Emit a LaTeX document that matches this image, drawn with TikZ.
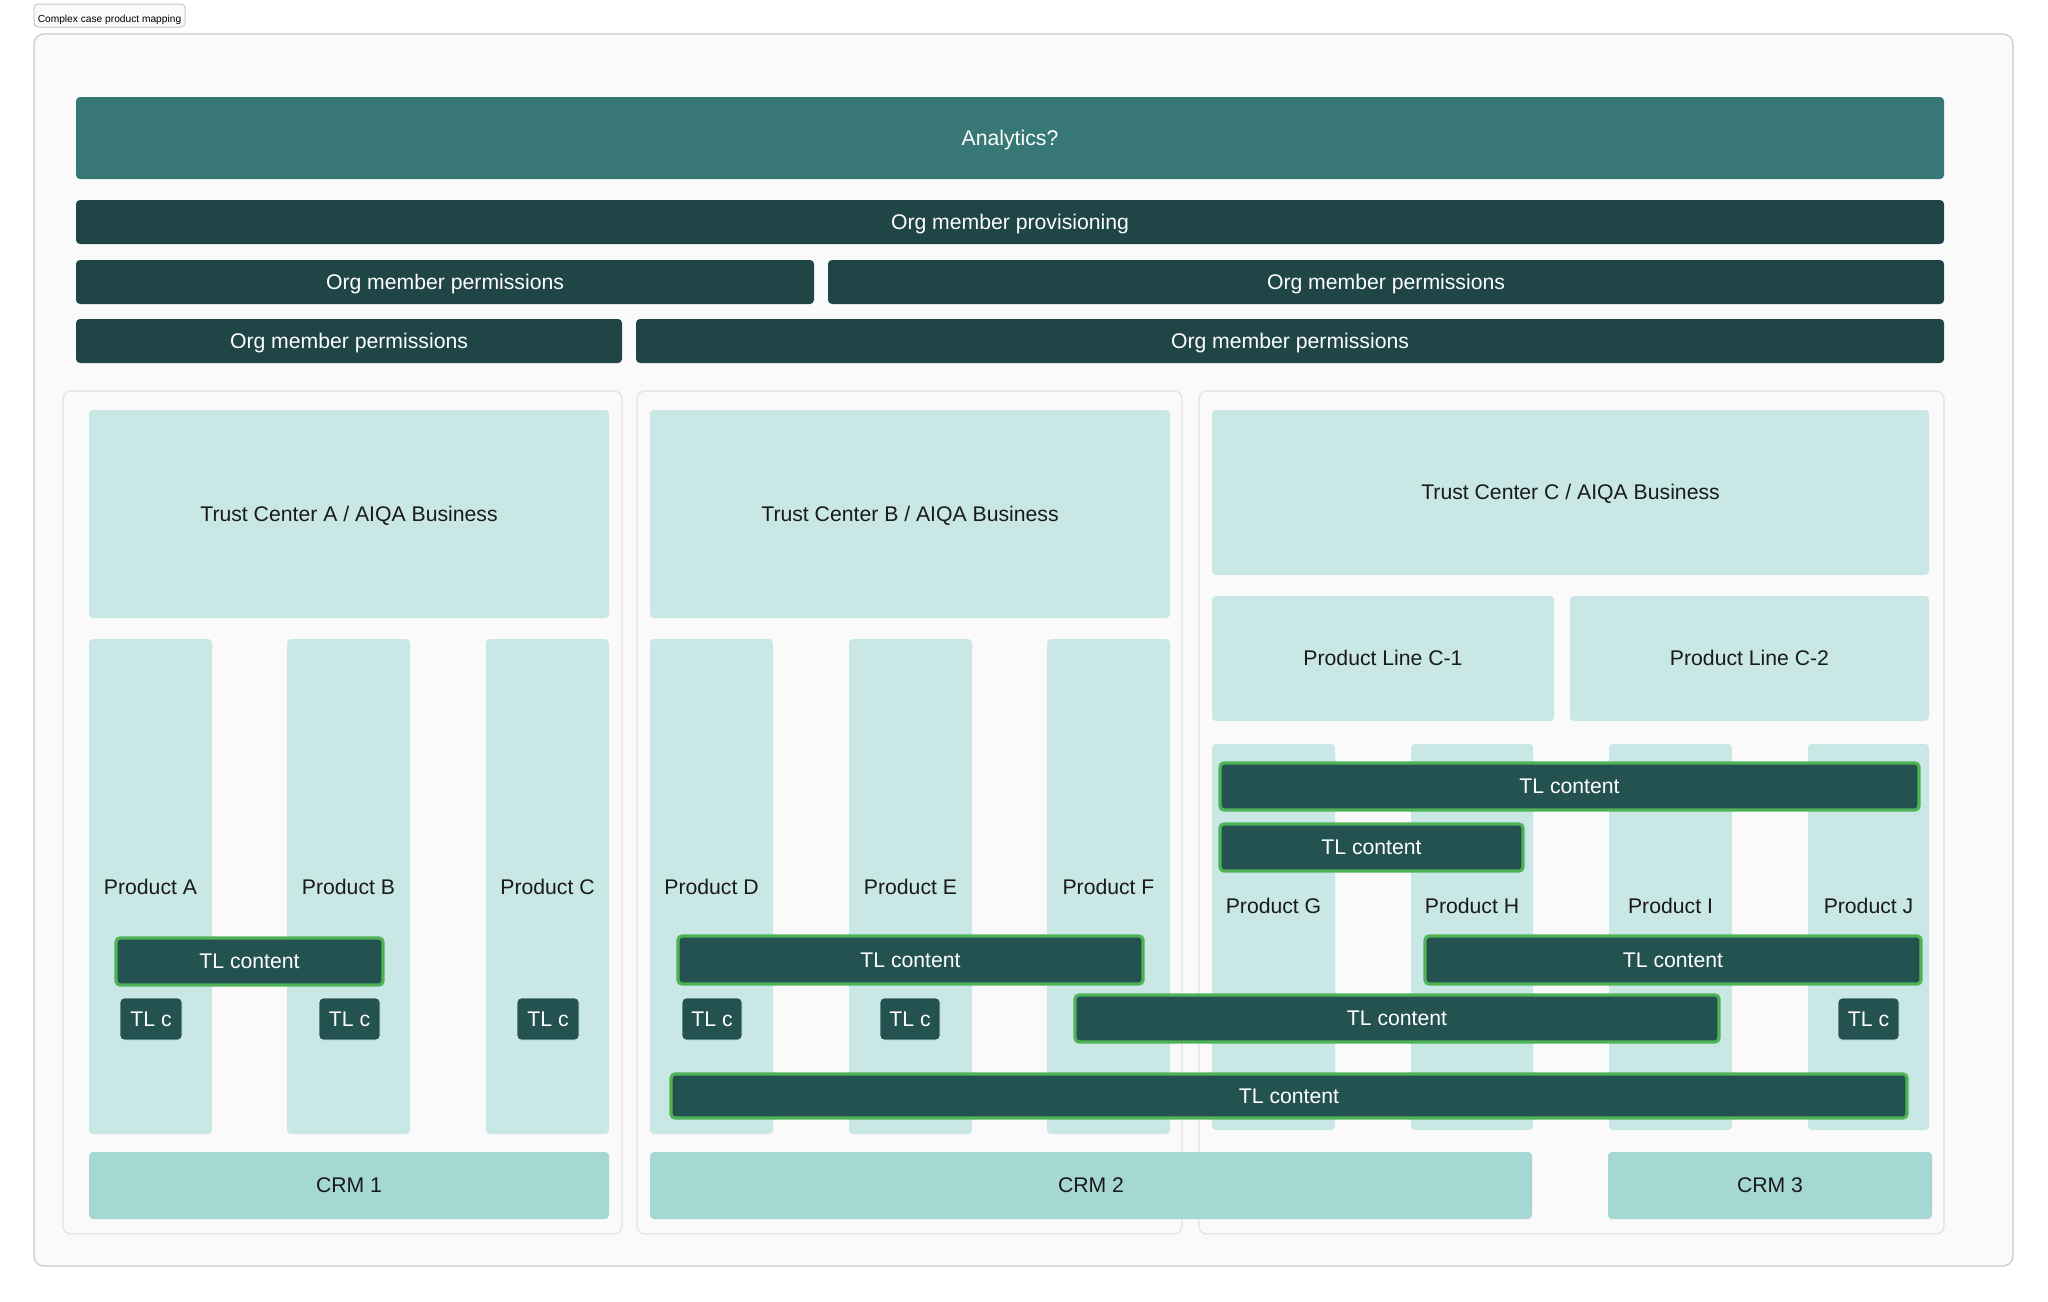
\documentclass[tikz,border=0pt]{standalone}
\usepackage{fontspec}
\setmainfont{Liberation Sans}
\definecolor{cAna}{HTML}{377876}
\definecolor{cDark}{HTML}{1F4547}
\definecolor{cLight}{HTML}{C8E7E5}
\definecolor{cCrm}{HTML}{A5D7D3}
\definecolor{cTL}{HTML}{245251}
\definecolor{cGreen}{HTML}{4FB257}
\definecolor{cTLedge}{HTML}{DDEFEC}
\definecolor{cBg}{HTML}{FAFAFA}
\definecolor{cGroup}{HTML}{E2E2E2}
\definecolor{cFrame}{HTML}{C9C9C9}
\definecolor{cText}{HTML}{1A1A1A}
\tikzset{
  base/.style={inner sep=0pt, outer sep=0pt, rounded corners=2pt, font=\fontsize{10.6}{12}\selectfont, text height=0.72em, text depth=0pt},
  anabox/.style={base, fill=cAna, text=white},
  darkbar/.style={base, fill=cDark, text=white},
  lightbox/.style={base, fill=cLight, text=cText},
  crmbox/.style={base, fill=cCrm, text=cText},
  tlcontent/.style={base, fill=cTL, draw=cGreen, line width=1.6pt, text=white},
  tlcbox/.style={base, fill=cTL, draw=cTLedge, line width=0.4pt, text=white},
  groupbox/.style={base, rounded corners=4pt, fill=cBg, draw=cGroup, line width=0.6pt},
  framebox/.style={base, rounded corners=5pt, fill=cBg, draw=cFrame, line width=0.6pt},
  titlebox/.style={base, rounded corners=2pt, fill=cBg, draw=cFrame, line width=0.5pt, text=black, font=\fontsize{5.1}{6}\selectfont},
  plabel/.style={inner sep=0pt, text=cText, font=\fontsize{10.6}{12}\selectfont, text height=0.72em, text depth=0pt}
}
\newcommand\bx[7]{%
  \pgfmathsetmacro\bxw{(#4-#2)*0.5}%
  \pgfmathsetmacro\bxh{(#5-#3)*0.5}%
  \node[#6, minimum width=\bxw pt, minimum height=\bxh pt] (#1) at ({(#2+#4)/2},{(#3+#5)/2}) {#7};}
\begin{document}
\begin{tikzpicture}[x=0.5pt, y=-0.5pt]
\fill[white] (0,0) rectangle (2048,1301);
\useasboundingbox (0,0) rectangle (2048,1301);
% outer frame and title
\bx{frame}{34}{34}{2013}{1266}{framebox}{}
\bx{title}{34}{4}{185}{27}{titlebox}{Complex case product mapping}
% top bars
\bx{analytics}{76}{97}{1944}{179}{anabox}{Analytics?}
\bx{prov}{76}{200}{1944}{244}{darkbar}{Org member provisioning}
\bx{permA}{76}{260}{814}{304}{darkbar}{Org member permissions}
\bx{permB}{828}{260}{1944}{304}{darkbar}{Org member permissions}
\bx{permC}{76}{319}{622}{363}{darkbar}{Org member permissions}
\bx{permD}{636}{319}{1944}{363}{darkbar}{Org member permissions}
% groups
\bx{grpA}{63}{391}{622}{1234}{groupbox}{}
\bx{grpB}{637}{391}{1182}{1234}{groupbox}{}
\bx{grpC}{1199}{391}{1944}{1234}{groupbox}{}
% trust centers
\bx{tcA}{89}{410}{609}{618}{lightbox}{Trust Center A / AIQA Business}
\bx{tcB}{650}{410}{1170}{618}{lightbox}{Trust Center B / AIQA Business}
\bx{tcC}{1212}{410}{1929}{575}{lightbox}{Trust Center C / AIQA Business}
\bx{plC1}{1212}{596}{1554}{721}{lightbox}{Product Line C-1}
\bx{plC2}{1570}{596}{1929}{721}{lightbox}{Product Line C-2}
% product columns
\bx{pA}{89}{639}{212}{1134}{lightbox}{}
\bx{pB}{287}{639}{410}{1134}{lightbox}{}
\bx{pC}{486}{639}{609}{1134}{lightbox}{}
\bx{pD}{650}{639}{773}{1134}{lightbox}{}
\bx{pE}{849}{639}{972}{1134}{lightbox}{}
\bx{pF}{1047}{639}{1170}{1134}{lightbox}{}
\bx{pG}{1212}{744}{1335}{1130}{lightbox}{}
\bx{pH}{1411}{744}{1533}{1130}{lightbox}{}
\bx{pI}{1609}{744}{1732}{1130}{lightbox}{}
\bx{pJ}{1808}{744}{1929}{1130}{lightbox}{}
\node[plabel] (lA) at (pA.center |- 0,887) {Product A};
\node[plabel] (lB) at (pB.center |- 0,887) {Product B};
\node[plabel] (lC) at (pC.center |- 0,887) {Product C};
\node[plabel] (lD) at (pD.center |- 0,887) {Product D};
\node[plabel] (lE) at (pE.center |- 0,887) {Product E};
\node[plabel] (lF) at (pF.center |- 0,887) {Product F};
\node[plabel] (lG) at (pG.center |- 0,906) {Product G};
\node[plabel] (lH) at (pH.center |- 0,906) {Product H};
\node[plabel] (lI) at (pI.center |- 0,906) {Product I};
\node[plabel] (lJ) at (pJ.center |- 0,906) {Product J};
% CRMs
\bx{crm1}{89}{1152}{609}{1219}{crmbox}{CRM 1}
\bx{crm2}{650}{1152}{1532}{1219}{crmbox}{CRM 2}
\bx{crm3}{1608}{1152}{1932}{1219}{crmbox}{CRM 3}
% TL content bars
\bx{tlA}{116}{938}{383}{985}{tlcontent}{TL content}
\bx{tlDF}{678}{936}{1143}{984}{tlcontent}{TL content}
\bx{tlC1}{1220}{763}{1919}{810}{tlcontent}{TL content}
\bx{tlC2}{1220}{824}{1523}{871}{tlcontent}{TL content}
\bx{tlHJ}{1425}{936}{1921}{984}{tlcontent}{TL content}
\bx{tlFI}{1075}{995}{1719}{1042}{tlcontent}{TL content}
\bx{tlAll}{671}{1074}{1907}{1118}{tlcontent}{TL content}
% TL c boxes
\bx{tcA1}{120}{998}{182}{1040}{tlcbox}{TL c}
\bx{tcB1}{319}{998}{380}{1040}{tlcbox}{TL c}
\bx{tcC1}{517}{998}{579}{1040}{tlcbox}{TL c}
\bx{tcD1}{682}{998}{742}{1040}{tlcbox}{TL c}
\bx{tcE1}{880}{998}{940}{1040}{tlcbox}{TL c}
\bx{tcJ1}{1838}{998}{1899}{1040}{tlcbox}{TL c}
\end{tikzpicture}
\end{document}
